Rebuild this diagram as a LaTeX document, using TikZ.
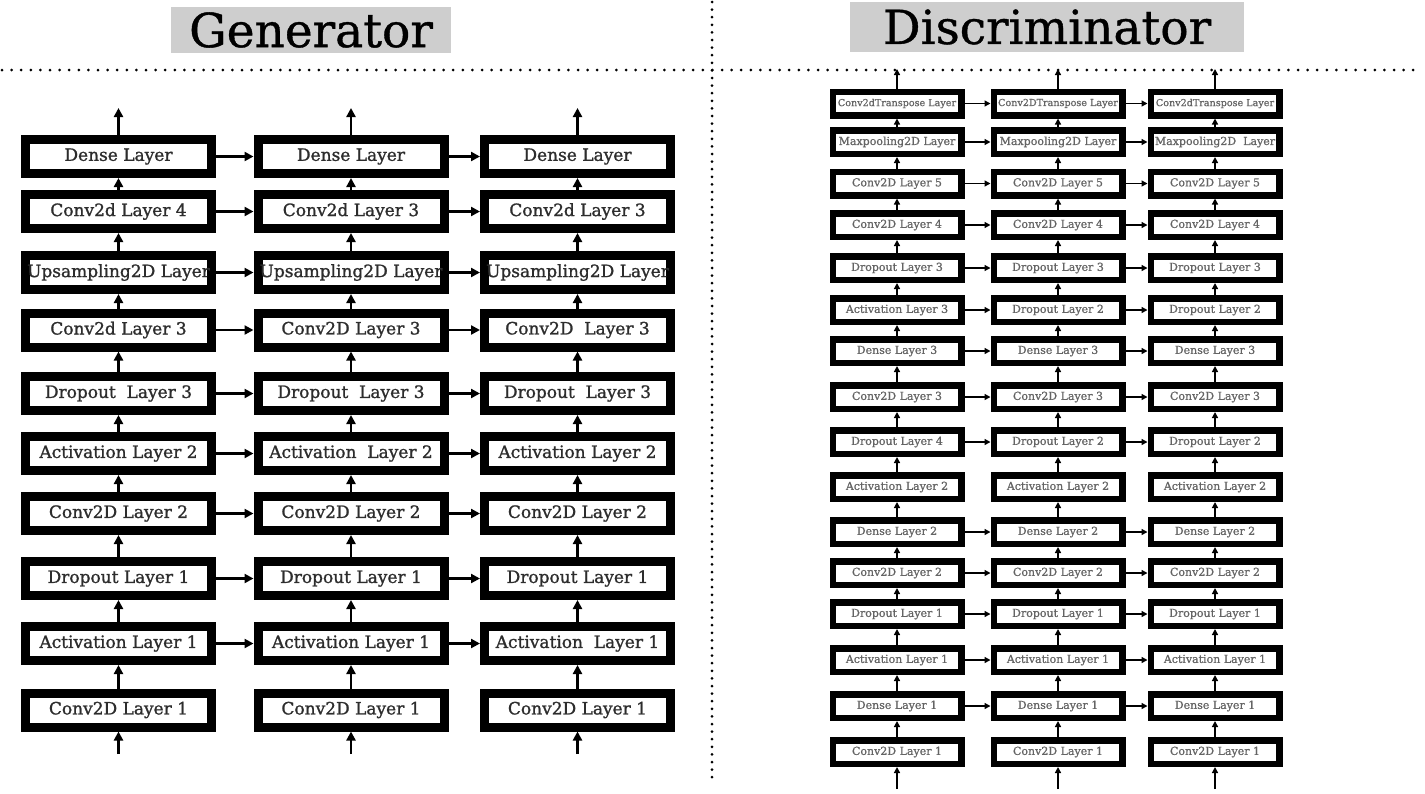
\documentclass[tikz,border=0pt]{standalone}
\usepackage{fontspec}
\setmainfont{DejaVu Serif}
\newfontfamily\glabelfont[FakeBold=1.2]{DejaVu Serif}
\newfontfamily\dlabelfont[FakeBold=0.8]{DejaVu Serif}
\newfontfamily\titlefont[FakeBold=0.8]{DejaVu Serif}
\usetikzlibrary{arrows.meta}
\definecolor{titlegray}{RGB}{206,206,206}
\definecolor{gtext}{RGB}{45,45,45}
\definecolor{dtext}{RGB}{100,100,100}
\tikzset{
  gbox/.style={draw=black, line width=9pt, fill=white, inner sep=0pt,
    minimum width=186pt, minimum height=34pt, text=gtext,
    font=\glabelfont\fontsize{17}{17}\selectfont, yshift=0pt},
  dbox/.style={draw=black, line width=6.5pt, fill=white, inner sep=0pt,
    minimum width=128.5pt, minimum height=23.5pt, text=dtext,
    font=\dlabelfont\fontsize{11}{11}\selectfont},
  dboxs/.style={dbox, font=\dlabelfont\fontsize{9.6}{9.6}\selectfont},
  garr/.style={line width=2.4pt, -{Triangle[length=9pt,width=9pt]}},
  darr/.style={line width=1.4pt, -{Triangle[length=6pt,width=6pt]}},
  dotline/.style={line width=3pt, line cap=round, dash pattern=on 0pt off 9.6pt},
  titlebox/.style={fill=titlegray, inner sep=0pt, font=\titlefont\fontsize{47}{47}\selectfont}
}
\newcommand\grow[5]{%
  \node[gbox] (g1r#1) at (118.5,#2) {#3};
  \node[gbox] (g2r#1) at (351,#2) {#4};
  \node[gbox] (g3r#1) at (577.5,#2) {#5};}
\newcommand\drow[6][dbox]{%
  \node[#1] (d1r#2) at (897,#3) {#4};
  \node[#1] (d2r#2) at (1058,#3) {#5};
  \node[#1] (d3r#2) at (1215,#3) {#6};}
\begin{document}
\begin{tikzpicture}[x=1pt,y=-1pt]
\useasboundingbox (0,0) rectangle (1425,793);
\fill[white] (0,0) rectangle (1425,793);
% dotted separators
\draw[dotline] (2,70) -- (1422,70);
\draw[dotline, dash pattern=on 0pt off 7.6pt] (712,2) -- (712,782);
% titles
\node[titlebox, minimum width=280pt, minimum height=46pt] (gtitle) at (311,30) {Generator};
\node[titlebox, minimum width=394pt, minimum height=50pt] (dtitle) at (1047,27) {Discriminator};
% generator
\grow{1}{156.5}{Dense Layer}{Dense Layer}{Dense Layer}
\grow{2}{211.5}{Conv2d Layer 4}{Conv2d Layer 3}{Conv2d Layer 3}
\grow{3}{272.5}{Upsampling2D Layer}{Upsampling2D Layer}{Upsampling2D Layer}
\grow{4}{330}{Conv2d Layer 3}{Conv2D Layer 3}{Conv2D\ \ Layer 3}
\grow{5}{393.5}{Dropout\ \ Layer 3}{Dropout\ \ Layer 3}{Dropout\ \ Layer 3}
\grow{6}{453.5}{Activation Layer 2}{Activation\ \ Layer 2}{Activation Layer 2}
\grow{7}{513.5}{Conv2D Layer 2}{Conv2D Layer 2}{Conv2D Layer 2}
\grow{8}{578.5}{Dropout Layer 1}{Dropout Layer 1}{Dropout Layer 1}
\grow{9}{643.5}{Activation Layer 1}{Activation Layer 1}{Activation\ \ Layer 1}
\grow{10}{710}{Conv2D Layer 1}{Conv2D Layer 1}{Conv2D Layer 1}
\foreach \r in {1,...,9}{
  \draw[garr] (g1r\r.east) -- (g2r\r.west);
  \draw[garr] (g2r\r.east) -- (g3r\r.west);}
\foreach \r [evaluate=\r as \p using int(\r-1)] in {2,...,10}
  \foreach \c in {1,2,3}
    \draw[garr] (g\c r\r.north) -- (g\c r\p.south);
\foreach \c/\x in {1/118.5,2/351,3/577.5}{
  \coordinate (gtop\c) at (\x,108);
  \coordinate (gbot\c) at (\x,754);
  \draw[garr] (g\c r1.north) -- (gtop\c);
  \draw[garr] (gbot\c) -- (g\c r10.south);}
% discriminator
\drow[dboxs]{1}{103.5}{Conv2dTranspose Layer}{Conv2DTranspose Layer}{Conv2dTranspose Layer}
\drow{2}{142}{Maxpooling2D Layer}{Maxpooling2D Layer}{Maxpooling2D\ \ Layer}
\drow{3}{183.5}{Conv2D Layer 5}{Conv2D Layer 5}{Conv2D Layer 5}
\drow{4}{225}{Conv2D Layer 4}{Conv2D Layer 4}{Conv2D Layer 4}
\drow{5}{268}{Dropout Layer 3}{Dropout Layer 3}{Dropout Layer 3}
\drow{6}{310}{Activation Layer 3}{Dropout Layer 2}{Dropout Layer 2}
\drow{7}{351}{Dense Layer 3}{Dense Layer 3}{Dense Layer 3}
\drow{8}{397}{Conv2D Layer 3}{Conv2D Layer 3}{Conv2D Layer 3}
\drow{9}{442}{Dropout Layer 4}{Dropout Layer 2}{Dropout Layer 2}
\drow{10}{487}{Activation Layer 2}{Activation Layer 2}{Activation Layer 2}
\drow{11}{532}{Dense Layer 2}{Dense Layer 2}{Dense Layer 2}
\drow{12}{573}{Conv2D Layer 2}{Conv2D Layer 2}{Conv2D Layer 2}
\drow{13}{614}{Dropout Layer 1}{Dropout Layer 1}{Dropout Layer 1}
\drow{14}{660}{Activation Layer 1}{Activation Layer 1}{Activation Layer 1}
\drow{15}{706}{Dense Layer 1}{Dense Layer 1}{Dense Layer 1}
\drow{16}{752}{Conv2D Layer 1}{Conv2D Layer 1}{Conv2D Layer 1}
\foreach \r in {1,...,9,11,12,13,14,15}{
  \draw[darr] (d1r\r.east) -- (d2r\r.west);
  \draw[darr] (d2r\r.east) -- (d3r\r.west);}
\foreach \r [evaluate=\r as \p using int(\r-1)] in {2,...,16}
  \foreach \c in {1,2,3}
    \draw[darr] (d\c r\r.north) -- (d\c r\p.south);
\foreach \c/\x in {1/897,2/1058,3/1215}{
  \coordinate (dtop\c) at (\x,69);
  \coordinate (dbot\c) at (\x,789);
  \draw[darr] (d\c r1.north) -- (dtop\c);
  \draw[darr] (dbot\c) -- (d\c r16.south);}
\end{tikzpicture}
\end{document}
